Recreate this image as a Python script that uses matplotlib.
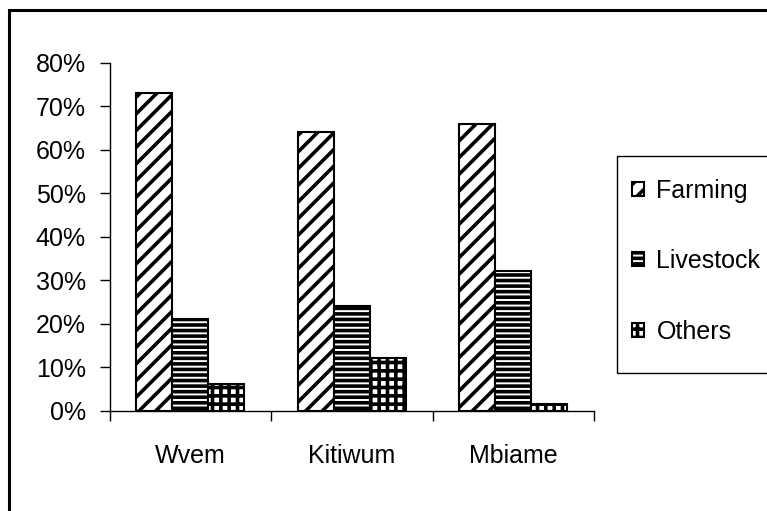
import matplotlib
matplotlib.use("Agg")
import matplotlib.pyplot as plt
import numpy as np

# data (percent)
villages = ["Wvem", "Kitiwum", "Mbiame"]
farming = [73, 64, 66]
livestock = [21, 24, 32]
others = [6, 12, 1.5]
y_ticks = [0, 10, 20, 30, 40, 50, 60, 70, 80]

plt.rcParams["font.family"] = ["Liberation Sans", "DejaVu Sans"]
plt.rcParams["font.size"] = 18
plt.rcParams["hatch.linewidth"] = 2.6
plt.rcParams["hatch.color"] = "black"

W, H = 767, 511
fig = plt.figure(figsize=(W / 100, H / 100), dpi=100)
ax = fig.add_axes([109.5 / W, 1 - 410.5 / H, (594 - 109.5) / W, (410.5 - 62.7) / H])

x = np.arange(len(villages))
bw = 0.223
series = [
    ("Farming", farming, "//"),
    ("Livestock", livestock, "---"),
    ("Others", others, "++"),
]
for i, (name, vals, hatch) in enumerate(series):
    ax.bar(x + (i - 1) * bw, vals, bw, label=name, facecolor="white",
           edgecolor="black", linewidth=1.5, hatch=hatch)

ax.set_xlim(-0.5, len(villages) - 0.5)
ax.set_ylim(0, 80)
ax.set_yticks(y_ticks)
ax.set_yticklabels([f"{v}%" for v in y_ticks])
ax.tick_params(axis="y", direction="out", length=7, width=1, pad=10)

# tick marks between categories, labels centred under each group
ax.set_xticks(np.arange(-0.5, len(villages), 1.0))
ax.set_xticklabels([])
ax.tick_params(axis="x", which="major", direction="out", length=7, width=1)
ax.set_xticks(x, minor=True)
ax.set_xticklabels(villages, minor=True)
ax.tick_params(axis="x", which="minor", length=0, pad=24)

for s in ["top", "right"]:
    ax.spines[s].set_visible(False)
for s in ["left", "bottom"]:
    ax.spines[s].set_linewidth(1)
    ax.spines[s].set_color("black")

# legend entries without frame, box drawn separately
leg = ax.legend(loc="upper left", bbox_to_anchor=(632 / W, 1 - 179 / H),
                bbox_transform=fig.transFigure, borderaxespad=0, borderpad=0,
                frameon=False, handlelength=0.48, handleheight=0.48,
                handletextpad=0.5, labelspacing=1.85)
fig.add_artist(plt.Rectangle((617 / W, 1 - 373 / H), 0.5, (373 - 156) / H,
                             transform=fig.transFigure, fill=False,
                             edgecolor="black", linewidth=1))

# outer chart border (right and bottom edges run off the picture)
fig.add_artist(plt.Rectangle((9 / W, -0.1), 1.2, 1.1 - 10 / H,
                             transform=fig.transFigure, fill=False,
                             edgecolor="black", linewidth=2.2))

fig.savefig("out.png", dpi=100)
